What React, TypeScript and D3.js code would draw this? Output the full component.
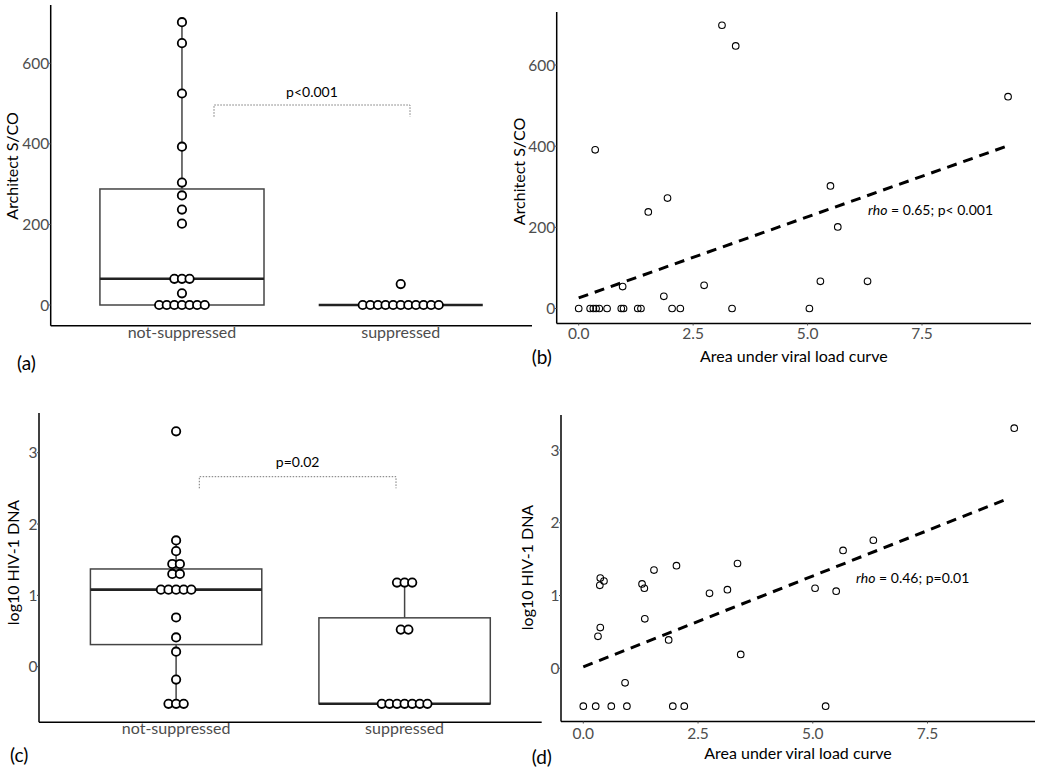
import React from "react";
import * as d3 from "d3";

// ---------- DATA ----------
const groups = ["not-suppressed", "suppressed"];

const architectNotSuppressed = [702, 650, 525, 393, 304, 272, 237, 202, 65, 65, 65, 29, 0, 0, 0, 0, 0, 0, 0];
const architectSuppressed = [52, 0, 0, 0, 0, 0, 0, 0, 0, 0, 0, 0];

const dnaNotSuppressed = [3.3, 1.77, 1.62, 1.44, 1.44, 1.3, 1.3, 1.08, 1.08, 1.08, 1.08, 1.08, 0.69, 0.41, 0.21, -0.18, -0.52, -0.52, -0.52];
const dnaSuppressed = [1.18, 1.18, 1.18, 0.52, 0.52, -0.52, -0.52, -0.52, -0.52, -0.52, -0.52, -0.52];

const architectTicks = [0, 200, 400, 600];
const dnaTicks = [0, 1, 2, 3];
const aucTicks = [0, 2.5, 5, 7.5];
const aucTickLabels = ["0.0", "2.5", "5.0", "7.5"];

const aucB = [0, 0.25, 0.32, 0.38, 0.45, 0.62, 0.93, 0.98, 0.96, 1.29, 1.36, 0.36, 1.52, 1.86, 1.94, 2.04, 2.22, 2.74, 3.13, 3.35, 3.43, 5.04, 5.28, 5.5, 5.66, 6.31, 9.38];
const architectB = [0, 0, 0, 0, 0, 0, 0, 0, 54, 0, 0, 391, 238, 30, 272, 0, 0, 57, 698, 0, 647, 0, 67, 302, 201, 67, 522];
const fitBx = [0, 9.38];
const fitBy = [26, 401];

const aucD = [0, 0.27, 0.61, 0.95, 1.95, 2.2, 5.28, 0.91, 0.32, 0.37, 0.36, 0.37, 0.45, 1.28, 1.33, 1.34, 1.54, 1.86, 2.03, 2.75, 3.14, 3.36, 3.43, 5.05, 5.51, 5.66, 6.32, 9.39];
const dnaD = [-0.52, -0.52, -0.52, -0.52, -0.52, -0.52, -0.52, -0.2, 0.44, 0.56, 1.14, 1.24, 1.2, 1.16, 1.1, 0.68, 1.35, 0.39, 1.41, 1.03, 1.08, 1.44, 0.19, 1.1, 1.06, 1.62, 1.76, 3.3];
const fitDx = [0, 9.29];
const fitDy = [0.02, 2.34];

const FONT = "Lato, 'Open Sans', sans-serif";
const TICK_COLOR = "#4d4d4d";

type BoxProps = {
  values: number[][];
  yDomain: [number, number];
  yRange: [number, number];
  xRange: [number, number];
  ticks: number[];
  axisTop: number;
  axisY: number;
  binWidth: number;
  yLabel: string;
  yLabelX: number;
  yLabelY: number;
  xLabelBaseline: number;
  pText: string;
  pY: number;
  pTickY: number;
  pTextY: number;
  pX0: number;
  pX1: number;
};

function boxStats(vals: number[]) {
  const s = [...vals].sort((a, b) => a - b);
  const q1 = d3.quantile(s, 0.25)!;
  const med = d3.quantile(s, 0.5)!;
  const q3 = d3.quantile(s, 0.75)!;
  const iqr = q3 - q1;
  const hi = d3.max(s.filter((v) => v <= q3 + 1.5 * iqr))!;
  const lo = d3.min(s.filter((v) => v >= q1 - 1.5 * iqr))!;
  return { q1, med, q3, hi, lo };
}

function binDots(vals: number[], bw: number) {
  const s = [...vals].sort((a, b) => a - b);
  const bins: number[][] = [];
  let cur: number[] = [];
  for (const v of s) {
    if (cur.length && v - cur[0] > bw) {
      bins.push(cur);
      cur = [];
    }
    cur.push(v);
  }
  if (cur.length) bins.push(cur);
  return bins;
}

function BoxPanel(p: BoxProps) {
  const x = d3.scalePoint<string>().domain(groups).range(p.xRange).padding(0.6);
  const y = d3.scaleLinear().domain(p.yDomain).range(p.yRange);
  const step = x.step();
  const bw = step * 0.75;
  const spacing = 7.6;
  return (
    <g>
      {p.values.map((vals, gi) => {
        const cx = x(groups[gi])!;
        const st = boxStats(vals);
        const bins = binDots(vals, p.binWidth);
        return (
          <g key={gi}>
            <line x1={cx} x2={cx} y1={y(st.q3)} y2={y(st.hi)} stroke="#444" strokeWidth={1.5} />
            <line x1={cx} x2={cx} y1={y(st.q1)} y2={y(st.lo)} stroke="#444" strokeWidth={1.5} />
            <rect x={cx - bw / 2} y={y(st.q3)} width={bw} height={Math.max(0, y(st.q1) - y(st.q3))} fill="none" stroke="#444" strokeWidth={1.5} />
            <line x1={cx - bw / 2} x2={cx + bw / 2} y1={y(st.med)} y2={y(st.med)} stroke="#222" strokeWidth={2.6} />
            {bins.map((b, bi) => {
              const yv = d3.mean(b)!;
              return b.map((_, i) => (
                <circle
                  key={`${bi}-${i}`}
                  cx={cx + (i - (b.length - 1) / 2) * spacing}
                  cy={y(yv)}
                  r={4.2}
                  fill="white"
                  stroke="black"
                  strokeWidth={1.8}
                />
              ));
            })}
          </g>
        );
      })}
      {/* axes */}
      <line x1={p.xRange[0]} x2={p.xRange[0]} y1={p.axisTop} y2={p.axisY} stroke="black" strokeWidth={1.5} />
      <line x1={p.xRange[0]} x2={p.xRange[1]} y1={p.axisY} y2={p.axisY} stroke="black" strokeWidth={1.5} />
      {p.ticks.map((t) => (
        <g key={t}>
          <line x1={p.xRange[0] - 2} x2={p.xRange[0]} y1={y(t)} y2={y(t)} stroke={TICK_COLOR} strokeWidth={1} />
          <text x={p.xRange[0] - 1.5} y={y(t)} dy="0.36em" textAnchor="end" fontSize={15.5} fill={TICK_COLOR} fontFamily={FONT}>
            {t}
          </text>
        </g>
      ))}
      {groups.map((g) => (
        <text key={g} x={x(g)!} y={p.xLabelBaseline} textAnchor="middle" fontSize={16} fill={TICK_COLOR} fontFamily={FONT}>
          {g}
        </text>
      ))}
      <text transform={`translate(${p.yLabelX},${p.yLabelY}) rotate(-90)`} textAnchor="middle" fontSize={16} fill="black" fontFamily={FONT}>
        {p.yLabel}
      </text>
      {/* significance bracket */}
      <path
        d={`M${p.pX0},${p.pTickY}V${p.pY}H${p.pX1}V${p.pTickY}`}
        fill="none"
        stroke="#777"
        strokeWidth={1}
        strokeDasharray="1.5,1.5"
      />
      <text x={(p.pX0 + p.pX1) / 2} y={p.pTextY} textAnchor="middle" fontSize={14} fill="black" fontFamily={FONT}>
        {p.pText}
      </text>
    </g>
  );
}

type ScatterProps = {
  xs: number[];
  ys: number[];
  fitX: number[];
  fitY: number[];
  yDomain: [number, number];
  yRange: [number, number];
  xRange: [number, number];
  yTicks: number[];
  axisLeft: number;
  axisRight: number;
  axisTop: number;
  axisY: number;
  yLabel: string;
  yLabelX: number;
  yLabelY: number;
  xTickBaseline: number;
  xTitleBaseline: number;
  rho: string;
  p: string;
  rhoX: number;
  rhoY: number;
};

function ScatterPanel(p: ScatterProps) {
  const x = d3.scaleLinear().domain([0, 7.5]).range(p.xRange);
  const y = d3.scaleLinear().domain(p.yDomain).range(p.yRange);
  const fit = d3
    .line<number>()
    .x((_, i) => x(p.fitX[i]))
    .y((_, i) => y(p.fitY[i]));
  return (
    <g>
      {p.xs.map((xv, i) => (
        <circle key={i} cx={x(xv)} cy={y(p.ys[i])} r={3.3} fill="none" stroke="black" strokeWidth={1.1} />
      ))}
      <path d={fit(p.fitX)!} fill="none" stroke="black" strokeWidth={3} strokeDasharray="10,7" />
      <line x1={p.axisLeft} x2={p.axisLeft} y1={p.axisTop} y2={p.axisY} stroke="black" strokeWidth={1.5} />
      <line x1={p.axisLeft} x2={p.axisRight} y1={p.axisY} y2={p.axisY} stroke="black" strokeWidth={1.5} />
      {p.yTicks.map((t) => (
        <g key={t}>
          <line x1={p.axisLeft - 2} x2={p.axisLeft} y1={y(t)} y2={y(t)} stroke={TICK_COLOR} strokeWidth={1} />
          <text x={p.axisLeft - 1.5} y={y(t)} dy="0.36em" textAnchor="end" fontSize={15.5} fill={TICK_COLOR} fontFamily={FONT}>
            {t}
          </text>
        </g>
      ))}
      {aucTicks.map((t, i) => (
        <g key={t}>
          <line x1={x(t)} x2={x(t)} y1={p.axisY} y2={p.axisY + 2} stroke={TICK_COLOR} strokeWidth={1} />
          <text x={x(t)} y={p.xTickBaseline} textAnchor="middle" fontSize={15.5} fill={TICK_COLOR} fontFamily={FONT}>
            {aucTickLabels[i]}
          </text>
        </g>
      ))}
      <text x={(p.axisLeft + p.axisRight) / 2 + 0} y={p.xTitleBaseline} textAnchor="middle" fontSize={16} fill="black" fontFamily={FONT}>
        Area under viral load curve
      </text>
      <text transform={`translate(${p.yLabelX},${p.yLabelY}) rotate(-90)`} textAnchor="middle" fontSize={16} fill="black" fontFamily={FONT}>
        {p.yLabel}
      </text>
      <text x={p.rhoX} y={p.rhoY} fontSize={14} fill="black" fontFamily={FONT}>
        <tspan fontStyle="italic">rho</tspan>
        <tspan>{` = ${p.rho}; ${p.p}`}</tspan>
      </text>
    </g>
  );
}

export default function App() {
  return (
    <svg
      width={1050}
      height={772}
      viewBox="0 0 1050 772"
      style={{ position: "absolute", left: 0, top: 0, background: "white" }}
    >
      <rect width={1050} height={772} fill="white" />
      {/* (a) */}
      <BoxPanel
        values={[architectNotSuppressed, architectSuppressed]}
        yDomain={[0, 600]}
        yRange={[305, 63.3]}
        xRange={[50.7, 532]}
        ticks={architectTicks}
        axisTop={5}
        axisY={325.7}
        binWidth={25}
        yLabel="Architect S/CO"
        yLabelX={18}
        yLabelY={166}
        xLabelBaseline={337.5}
        pText="p<0.001"
        pY={105}
        pTickY={116.7}
        pTextY={97}
        pX0={214}
        pX1={410}
      />
      {/* (c) */}
      <BoxPanel
        values={[dnaNotSuppressed, dnaSuppressed]}
        yDomain={[0, 3]}
        yRange={[666.7, 452.7]}
        xRange={[39, 541.7]}
        ticks={dnaTicks}
        axisTop={413}
        axisY={722.3}
        binWidth={0.1}
        yLabel="log10 HIV-1 DNA"
        yLabelX={18.5}
        yLabelY={562.5}
        xLabelBaseline={734}
        pText="p=0.02"
        pY={476.7}
        pTickY={488.3}
        pTextY={467}
        pX0={199.3}
        pX1={396}
      />
      {/* (b) */}
      <ScatterPanel
        xs={aucB}
        ys={architectB}
        fitX={fitBx}
        fitY={fitBy}
        yDomain={[0, 600]}
        yRange={[308.5, 65]}
        xRange={[578.7, 922]}
        yTicks={architectTicks}
        axisLeft={556.7}
        axisRight={1031}
        axisTop={12}
        axisY={323.5}
        yLabel="Architect S/CO"
        yLabelX={525}
        yLabelY={171.5}
        xTickBaseline={338.5}
        xTitleBaseline={362}
        rho="0.65"
        p="p< 0.001"
        rhoX={868}
        rhoY={215}
      />
      {/* (d) */}
      <ScatterPanel
        xs={aucD}
        ys={dnaD}
        fitX={fitDx}
        fitY={fitDy}
        yDomain={[0, 3]}
        yRange={[668.3, 450]}
        xRange={[583.3, 927.5]}
        yTicks={dnaTicks}
        axisLeft={561}
        axisRight={1035}
        axisTop={415}
        axisY={721.5}
        yLabel="log10 HIV-1 DNA"
        yLabelX={532.7}
        yLabelY={567.5}
        xTickBaseline={738.5}
        xTitleBaseline={759}
        rho="0.46"
        p="p=0.01"
        rhoX={856}
        rhoY={583}
      />
      {/* panel letters */}
      <text x={17} y={370} fontSize={19} fill="black" fontFamily={FONT}>(a)</text>
      <text x={531.7} y={364} fontSize={19} fill="black" fontFamily={FONT}>(b)</text>
      <text x={10} y={762} fontSize={19} fill="black" fontFamily={FONT}>(c)</text>
      <text x={531.7} y={764} fontSize={19} fill="black" fontFamily={FONT}>(d)</text>
    </svg>
  );
}
